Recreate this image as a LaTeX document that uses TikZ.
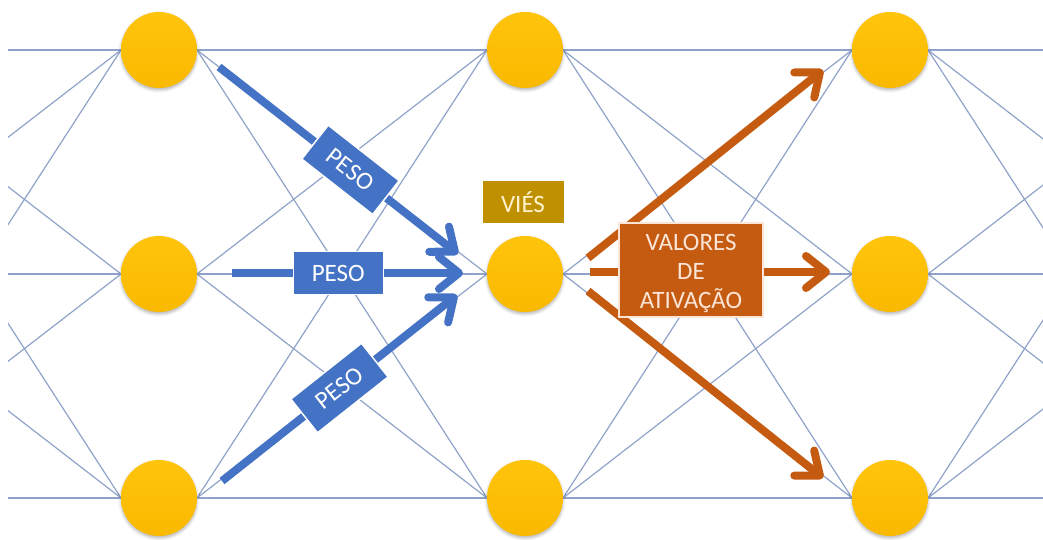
\documentclass[tikz,border=0pt]{standalone}
\usepackage{fontspec}
\setmainfont{Carlito}
\usetikzlibrary{arrows.meta,shadows.blur}

\definecolor{netcol}{HTML}{8FA2C9}
\definecolor{neurontop}{HTML}{FFC40C}
\definecolor{neuronbot}{HTML}{F9B900}
\definecolor{pesoblue}{HTML}{4472C4}
\definecolor{biasgold}{HTML}{BF9000}
\definecolor{actorange}{HTML}{C55A11}
\definecolor{cream}{HTML}{FFF2CC}
\definecolor{peach}{HTML}{FBE5D6}

\tikzset{
  netline/.style={draw=netcol, line width=1.2pt},
  neuron/.style={circle, minimum size=76pt, inner sep=0pt,
    top color=neurontop, bottom color=neuronbot,
    blur shadow={shadow xshift=0pt, shadow yshift=-2pt,
      shadow blur radius=3pt, shadow opacity=30}},
  ghost/.style={circle, minimum size=76pt, inner sep=0pt},
  labeltext/.style={font=\fontsize{25}{29}\selectfont},
  weightarrow/.style={draw=pesoblue, line width=8pt,
    -{Straight Barb[length=20pt,width=32pt,round]}},
  actarrow/.style={draw=actorange, line width=8pt,
    -{Straight Barb[length=20pt,width=32pt,round]}},
  pesobox/.style={labeltext, fill=pesoblue, draw=white, line width=1.5pt,
    text=white, minimum width=90pt, minimum height=43pt, inner sep=0pt},
  biasbox/.style={labeltext, fill=biasgold, text=cream,
    minimum width=81pt, minimum height=42pt, inner sep=0pt},
  actbox/.style={fill=actorange, draw=peach, line width=1.2pt,
    minimum width=144pt, minimum height=94pt, inner sep=0pt},
  acttext/.style={labeltext, text=peach, inner sep=0pt, align=center}
}

\begin{document}
\begin{tikzpicture}[x=1pt,y=-1pt]
\useasboundingbox (0,0) rectangle (1043,540);

% layers: 0 and 4 lie outside the page, 1..3 are visible
\foreach \c/\x in {0/-207,4/1256}{
  \foreach \r/\y in {1/50,2/274,3/498}{
    \node[ghost] (n\c-\r) at (\x,\y) {};
  }
}

% fully connected links between consecutive layers
\begin{scope}
  \clip (8,0) rectangle (1043,540);
  \foreach \c/\x in {1/159,2/525,3/890}{
    \foreach \r/\y in {1/50,2/274,3/498}{
      \path (\x,\y) coordinate (p\c-\r);
    }
  }
  \foreach \a/\b in {0/1,1/2,2/3,3/4}{
    \foreach \r in {1,2,3}{
      \foreach \s in {1,2,3}{
        \ifnum\a=0
          \draw[netline] (n\a-\r.east) -- ([xshift=-38pt]p\b-\s);
        \else\ifnum\b=4
          \draw[netline] ([xshift=38pt]p\a-\r) -- (n\b-\s.west);
        \else
          \draw[netline] ([xshift=38pt]p\a-\r) -- ([xshift=-38pt]p\b-\s);
        \fi\fi
      }
    }
  }
\end{scope}

% neurons
\foreach \c/\x in {1/159,2/525,3/890}{
  \foreach \r/\y in {1/50,2/274,3/498}{
    \node[neuron] (n\c-\r) at (\x,\y) {};
  }
}

% weights feeding the middle neuron
\coordinate (wa-s) at (219,67);  \coordinate (wa-e) at (458,254);
\coordinate (wb-s) at (232,273); \coordinate (wb-e) at (463,273);
\coordinate (wc-s) at (222,481); \coordinate (wc-e) at (457,295);
\draw[weightarrow] (wa-s) -- node[pesobox, sloped, pos=0.55] (peso1) {PESO} (wa-e);
\draw[weightarrow] (wb-s) -- node[pesobox, pos=0.46] (peso2) {PESO} (wb-e);
\draw[weightarrow] (wc-s) -- node[pesobox, sloped, pos=0.50] (peso3) {PESO} (wc-e);

% bias label
\node[biasbox] (bias) at (523,202) {VIÉS};

% activations leaving the middle neuron
\coordinate (aa-s) at (588,258); \coordinate (aa-e) at (823,70);
\coordinate (ab-s) at (590,272); \coordinate (ab-e) at (830,272);
\coordinate (ac-s) at (588,291); \coordinate (ac-e) at (823,478);
\draw[actarrow] (aa-s) -- (aa-e);
\draw[actarrow] (ab-s) -- (ab-e);
\draw[actarrow] (ac-s) -- (ac-e);

\node[actbox] (act) at (691,270) {};
\node[acttext] (act-label) at ([yshift=-3pt]act.center) {VALORES\\DE\\ATIVAÇÃO};
\end{tikzpicture}
\end{document}
